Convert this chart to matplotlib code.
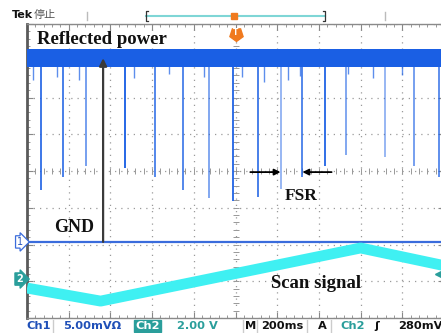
import numpy as np
import matplotlib
matplotlib.use("Agg")
import matplotlib.pyplot as plt
from matplotlib.lines import Line2D

# ---------------- data ----------------
# Ch1 : reflected power (5 mV/div), Ch2 : scan signal (2 V/div), time 200 ms/div
ch1_offset_div = -1.93          # ground marker of Ch1 (divisions)
ch2_offset_div = -2.94          # ground marker of Ch2 (divisions)
ch1_scale = 5.0                 # mV/div
ch2_scale = 2.0                 # V/div
power_level_mV = 25.0
power_noise_mV = 1.25

dip_t_ms = [-935, -825, -715, -532, -388, -254, -129, -10, 106, 216, 321, 427, 528, 719, 854, 974]
dip_min_mV = [7.1, 8.8, 10.3, 10.1, 8.8, 7.1, 6.0, 5.6, 6.1, 7.2, 8.8, 10.3, 11.8, 11.6, 10.3, 8.8]
dip_alpha = [0.85, 0.8, 0.6, 0.95, 0.75, 0.75, 0.55, 0.9, 0.8, 0.45, 0.75, 0.9, 0.55, 0.45, 0.6, 0.7]

small_dip_t_ms = [-970, -855, -750, -487, -320, -150, 30, 135, 250, 310, 540, 660, 800]
small_dip_mV = [22.0, 22.5, 22.0, 22.3, 22.8, 22.5, 22.4, 21.8, 22.0, 22.6, 22.8, 22.3, 22.7]

scan_t_ms = [-1000, -647, 600, 1000]
scan_V = [-0.49, -1.20, 1.69, 0.73]

gnd_arrow_t_ms = -635
fsr_left_dip_ms = 216
fsr_right_dip_ms = 321

# ---------------- figure ----------------
W, H = 441, 333
fig = plt.figure(figsize=(W / 100, H / 100), dpi=100)
fig.patch.set_facecolor("white")

def fx(px):
    return px / W

def fy(py):
    return 1 - py / H

ax = fig.add_axes([fx(27), fy(318), 417 / W, 294 / H])
ax.set_xlim(-1000, 1000)
ax.set_ylim(-4, 4)
ax.set_facecolor("white")

# grid
ax.set_xticks(np.arange(-1000, 1001, 200))
ax.set_yticks(np.arange(-4, 4.1, 1))
ax.set_xticks(np.arange(-1000, 1001, 40), minor=True)
ax.set_yticks(np.arange(-4, 4.01, 0.2), minor=True)
ax.grid(True, which="major", color="#9a9a9a", linestyle=(0, (1, 4)), linewidth=0.9)
ax.tick_params(which="both", direction="in", labelbottom=False, labelleft=False,
               top=True, right=True, color="#888888")
ax.tick_params(which="major", length=4, width=0.8)
ax.tick_params(which="minor", length=2.5, width=0.6)
for s in ["top", "bottom", "right"]:
    ax.spines[s].set_color("#8a8a8a")
    ax.spines[s].set_linewidth(1.0)
ax.spines["left"].set_color("#5a5a5a")
ax.spines["left"].set_linewidth(2.0)

# centre-line ticks
cx = np.arange(-1000, 1001, 40)
ax.plot(cx, np.zeros_like(cx), ls="none", marker="|", ms=4, mew=0.6, color="#888888", zorder=1)
cy = np.arange(-4, 4.01, 0.2)
ax.plot(np.zeros_like(cy), cy, ls="none", marker="_", ms=4, mew=0.6, color="#888888", zorder=1)

def ch1(mv):
    return ch1_offset_div + np.asarray(mv) / ch1_scale

def ch2(v):
    return ch2_offset_div + np.asarray(v) / ch2_scale

blue = "#1a5fe4"
cyan = "#3ff0f2"
teal = "#2a9e9b"

# Ch1 ground line
ax.axhline(ch1_offset_div, color="#3a6cdc", lw=1.6, zorder=3)

# reflected power band
band_t = [-1000, 1000]
ax.fill_between(band_t, ch1(power_level_mV - power_noise_mV), ch1(power_level_mV + power_noise_mV),
                color=blue, lw=0, zorder=4)
# dips
for t, m, a in zip(dip_t_ms, dip_min_mV, dip_alpha):
    ax.vlines(t, ch1(m), ch1(power_level_mV - power_noise_mV) + 0.05, color=blue, alpha=a, lw=1.4, zorder=4)
ax.vlines(small_dip_t_ms, ch1(small_dip_mV), ch1(power_level_mV - power_noise_mV) + 0.05,
          color=blue, lw=1.0, alpha=0.7, zorder=4)

# scan signal
ax.plot(scan_t_ms, ch2(scan_V), color=cyan, lw=7.8, solid_capstyle="butt", zorder=5)

# GND arrow
ax.annotate("", xy=(gnd_arrow_t_ms, ch1(power_level_mV)), xytext=(gnd_arrow_t_ms, ch1_offset_div),
            arrowprops=dict(arrowstyle="-|>", color="#3a3a3a", lw=1.6, mutation_scale=11,
                            shrinkA=0, shrinkB=0), zorder=6)
# FSR arrows
ax.annotate("", xy=(fsr_left_dip_ms, -0.03), xytext=(fsr_left_dip_ms - 145, -0.03),
            arrowprops=dict(arrowstyle="-|>", color="black", lw=1.3, mutation_scale=9,
                            shrinkA=0, shrinkB=0), zorder=6)
ax.annotate("", xy=(fsr_right_dip_ms, -0.03), xytext=(fsr_right_dip_ms + 140, -0.03),
            arrowprops=dict(arrowstyle="-|>", color="black", lw=1.3, mutation_scale=9,
                            shrinkA=0, shrinkB=0), zorder=6)

serif = dict(family="Liberation Serif", weight="bold", color="#111111")
ax.text(-952, 3.59, "Reflected power", ha="left", va="center", fontsize=13.5, zorder=7, **serif)
ax.text(-772, -1.55, "GND", ha="center", va="center", fontsize=13, zorder=7, **serif)
ax.text(317, -0.68, "FSR", ha="center", va="center", fontsize=12.5, zorder=7, **serif)
ax.text(388, -3.07, "Scan signal", ha="center", va="center", fontsize=13.5, zorder=7, **serif)

# trigger position marker (orange)
ax.plot([0], [3.73], marker=(5, 0, 180), ms=10, color="#f07a1e", clip_on=False, zorder=8)
ax.text(0, 3.76, "T", ha="center", va="center", fontsize=5.5, color="white", weight="bold", zorder=9)
# trigger level marker
ax.plot([975], [ch2(0.28)], marker="<", ms=6, color=teal, clip_on=False, zorder=8)

# channel markers
ax.text(-1020, ch1_offset_div, "1", ha="right", va="center", fontsize=7, color="#2a58c0",
        bbox=dict(boxstyle="rarrow,pad=0.12", fc="white", ec="#3a6cdc", lw=0.9), clip_on=False)
ax.text(-1020, ch2_offset_div, "2", ha="right", va="center", fontsize=7, color="white", weight="bold",
        bbox=dict(boxstyle="rarrow,pad=0.12", fc=teal, ec=teal, lw=0.9), clip_on=False)

# ---------------- top bar ----------------
fig.text(fx(12), fy(15), "Tek", fontsize=8, weight="bold", color="#111111", va="center",
         family="DejaVu Sans")
fig.text(fx(34), fy(15), "停止", fontsize=8, color="#555555", va="center",
         family=["Noto Sans CJK SC", "DejaVu Sans"])
for xp in (87, 385):
    fig.add_artist(Line2D([fx(xp), fx(xp)], [fy(12), fy(20)], color="#bbbbbb", lw=1))
fig.add_artist(Line2D([fx(146), fx(325)], [fy(16), fy(16)], color="#7fd6d6", lw=1.5))
for xp, d in ((146, 2), (325, -2)):
    fig.add_artist(Line2D([fx(xp + d), fx(xp), fx(xp), fx(xp + d)],
                          [fy(11), fy(11), fy(21), fy(21)], color="#333333", lw=0.9))
fig.add_artist(Line2D([fx(234)], [fy(16)], marker="s", ms=5, color="#f07a1e"))

# ---------------- bottom status bar ----------------
sy = fy(326)
sb = dict(fontsize=8.2, weight="bold", va="center", family="DejaVu Sans")
fig.text(fx(26), sy, "Ch1", color="#2050b8", **sb)
fig.text(fx(63), sy, "5.00mVΩ", color="#2050b8", **sb)
fig.text(fx(135), sy, "Ch2", color="white", bbox=dict(boxstyle="square,pad=0.1", fc=teal, ec=teal), **sb)
fig.text(fx(177), sy, "2.00 V", color=teal, **sb)
fig.text(fx(245), sy, "M", color="#111111", **sb)
fig.text(fx(261), sy, "200ms", color="#111111", **sb)
fig.text(fx(318), sy, "A", color="#111111", **sb)
fig.text(fx(340), sy, "Ch2", color=teal, **sb)
fig.text(fx(374), sy, "ʃ", color="#111111", **sb)
fig.text(fx(398), sy, "280mV", color="#111111", **sb)
for xp in (53, 243, 257, 307, 331):
    fig.add_artist(Line2D([fx(xp), fx(xp)], [fy(320), fy(332)], color="#cccccc", lw=1))

fig.savefig("out.png", dpi=100, facecolor="white")
